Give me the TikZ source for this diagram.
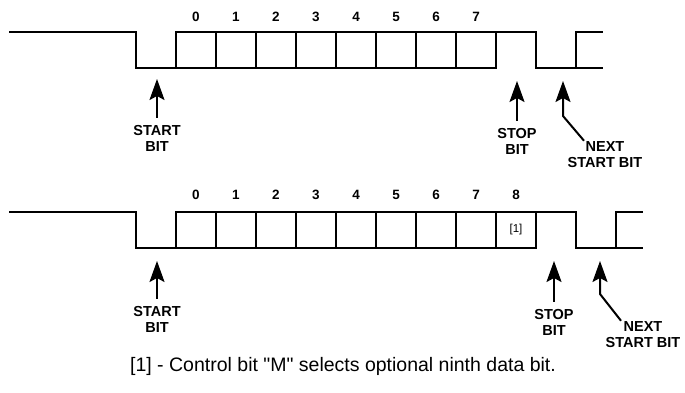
\documentclass[tikz,border=0pt]{standalone}
\usepackage{fontspec}
\setmainfont{Liberation Sans}[Ligatures=TeXOff]
\usetikzlibrary{arrows.meta, positioning}

\begin{document}
\begin{tikzpicture}[
  x=1pt, y=-1pt,
  wave/.style={draw=black, line width=2.2pt, line join=miter},
  bitbox/.style={draw=black, line width=2pt, minimum width=40pt, minimum height=36pt, inner sep=0pt, outer sep=0pt},
  bitnum/.style={font=\bfseries\fontsize{13.5}{15}\selectfont, inner sep=1pt},
  marker/.style={-{Stealth[length=21pt, width=15pt, inset=4pt]}, draw=black, line width=2pt},
  tag/.style={align=center, inner sep=1pt, font=\bfseries\fontsize{14.5}{16}\selectfont},
  note/.style={inner sep=0pt, font=\fontsize{19.5}{21}\selectfont}
]
\useasboundingbox (0,0) rectangle (685,393);

% Trame 1 : 8 bits de données
\coordinate (idleA) at (9,32);
\foreach \i in {0,...,7} {
  \node[bitbox] (a\i) at (196+40*\i, 50) {};
  \node[bitnum] at (196+40*\i, 17) {\i};
}
\draw[wave] (idleA) -- (136,32) |- (a0.south west);
\draw[wave] (a7.north east) -- ++(40,0) coordinate (stopA) -- ++(0,36) -- ++(67,0);
\draw[wave] (stopA) ++(40,36) -- ++(0,-36) -- ++(27,0);

% Trame 2 : 9 bits de données
\coordinate (idleB) at (9,212);
\foreach \i in {0,...,8} {
  \node[bitbox] (b\i) at (196+40*\i, 230) {};
  \node[bitnum] at (196+40*\i, 195) {\i};
}
\node[font=\fontsize{11.5}{13}\selectfont] (ctl) at (b8) {[1]};
\draw[wave] (idleB) -- (136,212) |- (b0.south west);
\draw[wave] (b8.north east) -- ++(40,0) coordinate (stopB) -- ++(0,36) -- ++(67,0);
\draw[wave] (stopB) ++(40,36) -- ++(0,-36) -- ++(27,0);

% Repères et légendes
\node[tag] (startA) at (157,138) {START\\BIT};
\node[tag] (stopTA) at (517,141) {STOP\\BIT};
\node[tag] (nextA)  at (605,155) {NEXT\\START BIT};
\coordinate (tipStartA) at (157,79);
\coordinate (tipStopA)  at (517,81);
\coordinate (tipNextA)  at (563,81);
\draw[marker] (startA.north) ++(0,-6) -- (tipStartA);
\draw[marker] (stopTA.north) ++(0,-6) -- (tipStopA);
\draw[marker] (nextA.north) ++(-21,0) -- (563,116) -- (tipNextA);

\node[tag] (startB) at (157,319) {START\\BIT};
\node[tag] (stopTB) at (554,322) {STOP\\BIT};
\node[tag] (nextB)  at (643,335) {NEXT\\START BIT};
\coordinate (tipStartB) at (157,261);
\coordinate (tipStopB)  at (554,261);
\coordinate (tipNextB)  at (600,261);
\draw[marker] (startB.north) ++(0,-6) -- (tipStartB);
\draw[marker] (stopTB.north) ++(0,-6) -- (tipStopB);
\draw[marker] (nextB.north) ++(-22,0) -- (600,294) -- (tipNextB);

% Note
\node[note] (footnote) at (343,366) {[1] - Control bit "M" selects optional ninth data bit.};
\end{tikzpicture}
\end{document}
